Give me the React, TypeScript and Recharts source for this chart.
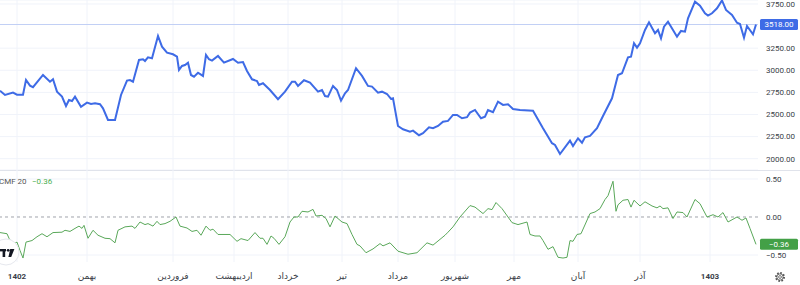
import React from 'react';
import { LineChart, Line, XAxis, YAxis, CartesianGrid, ReferenceLine } from 'recharts';

const priceDays = [0,5,13,17,23,26,30,33,43,50,53,57,62,66,69,72,75,81,87,91,95,100,103,108,115,121,127,130,133,139,143,145,148,152,158,162,167,173,177,179,182,185,188,191,194,198,203,206,209,212,218,224,233,238,243,247,252,257,259,263,270,278,285,292,295,298,304,310,318,322,325,328,333,337,341,345,348,356,362,368,372,378,382,387,391,393,398,403,410,413,419,423,429,433,438,443,448,453,457,462,467,470,475,481,485,488,493,498,503,508,513,520,533,543,552,555,560,570,573,578,582,585,590,597,603,612,618,622,628,631,634,637,640,645,649,655,658,661,664,668,673,677,681,685,688,695,700,705,708,712,717,722,726,732,737,740,744,747,753,756];
const priceValues = [2769,2721,2747,2724,2724,2890,2826,2808,2947,2871,2898,2758,2702,2596,2664,2653,2702,2588,2634,2619,2627,2616,2570,2438,2438,2721,2883,2890,2871,3117,3125,3105,3147,3136,3388,3267,3199,3181,3154,3004,3049,3060,3086,2947,2928,2973,2936,3173,3125,3109,3162,3086,3128,3086,3094,2992,2898,2879,2834,2853,2777,2672,2758,2871,2871,2823,2887,2860,2758,2777,2709,2702,2823,2777,2656,2740,2777,3023,2936,2823,2815,2747,2758,2732,2676,2683,2370,2333,2306,2317,2265,2288,2355,2344,2370,2419,2427,2495,2495,2457,2469,2521,2551,2457,2475,2551,2525,2645,2608,2616,2562,2551,2543,2344,2175,2155,2053,2204,2144,2231,2181,2242,2257,2344,2483,2683,2947,2966,3147,3154,3306,3256,3306,3456,3543,3419,3456,3362,3493,3550,3456,3380,3445,3437,3588,3776,3731,3645,3618,3645,3701,3790,3682,3626,3538,3524,3369,3501,3407,3518];

const cmfDays = [0,7,9,13,17,20,23,26,32,37,42,47,53,62,65,70,75,79,82,84,88,93,98,105,110,115,118,125,132,135,140,145,148,153,157,160,165,170,176,180,187,192,197,201,206,210,213,218,230,237,241,248,255,260,263,267,271,274,279,285,290,294,298,302,308,313,316,322,326,330,335,342,347,352,357,360,366,373,378,380,383,390,398,408,417,427,433,445,448,453,460,470,475,483,488,492,496,502,512,518,527,530,535,540,543,548,553,558,563,567,570,573,577,581,590,595,600,605,608,613,616,618,623,628,631,634,640,645,652,657,660,663,668,673,677,683,687,695,700,707,713,718,723,728,737,742,746,750,756];
const cmfValues = [-0.205,-0.22,-0.28,-0.36,-0.33,-0.44,-0.54,-0.33,-0.31,-0.26,-0.22,-0.26,-0.205,-0.2,-0.175,-0.19,-0.15,-0.12,-0.15,-0.11,-0.28,-0.175,-0.24,-0.28,-0.285,-0.34,-0.175,-0.13,-0.12,-0.15,-0.066,-0.1,-0.087,-0.12,-0.057,-0.1,-0.087,-0.057,0.0,-0.12,-0.145,-0.19,-0.175,-0.24,-0.12,-0.175,-0.16,-0.23,-0.23,-0.32,-0.285,-0.31,-0.205,-0.28,-0.28,-0.36,-0.25,-0.28,-0.36,-0.26,-0.066,0.0,0.0,0.075,0.066,0.1,0.013,0.022,-0.02,-0.13,0.013,-0.066,-0.087,-0.23,-0.36,-0.38,-0.47,-0.42,-0.37,-0.35,-0.38,-0.34,-0.45,-0.49,-0.47,-0.34,-0.37,-0.24,-0.2,-0.13,0.0,0.15,0.13,0.045,0.11,0.097,0.19,0.11,-0.074,-0.1,-0.066,-0.23,-0.25,-0.25,-0.31,-0.425,-0.39,-0.53,-0.54,-0.53,-0.31,-0.32,-0.23,-0.22,0.045,0.066,0.11,0.23,0.28,0.47,0.075,0.16,0.22,0.23,0.13,0.22,0.145,0.2,0.145,0.12,0.145,0.11,0.12,-0.02,0.066,0.058,0.0,0.23,0.175,0.0,0.03,0.0,0.058,-0.066,0.0,-0.043,-0.013,-0.15,-0.36];

const monthDays = [17, 87, 173, 234, 288, 342, 398, 455, 514, 578, 640, 710];
const monthLabels = ['1402', 'بهمن', 'فروردین', 'اردیبهشت', 'خرداد', 'تیر', 'مرداد', 'شهریور', 'مهر', 'آبان', 'آذر', '1403'];

const priceTicks = [2000, 2250, 2500, 2750, 3000, 3250, 3750];
const cmfTicks = [-0.5, 0, 0.5];
const cmfLength = 20;

const priceData = priceDays.map((d, i) => ({ day: d, price: priceValues[i] }));
const cmfData = cmfDays.map((d, i) => ({ day: d, cmf: cmfValues[i] }));
const lastPrice = priceValues[priceValues.length - 1];
const lastCmf = cmfValues[cmfValues.length - 1];

const FONT = 'Roboto, "DejaVu Sans", sans-serif';
const GRID = '#f0f3fa';
const BLUE = '#3e6be6';
const GREEN = '#5aa85a';
const TEXT = '#3a3e48';

const fmt = (v: number) => (v < 0 ? '\u2212' + Math.abs(v).toFixed(2) : v.toFixed(2));

const PriceTag = (color: string, text: string) => (props: any) => {
  const vb = props.viewBox || {};
  const x = (vb.x || 0) + (vb.width || 0) + 2;
  const y = vb.y || 0;
  return (
    <g>
      <rect x={x} y={y - 5.5} width={38} height={11} rx={1.5} fill={color} />
      <text x={x + 19} y={y} dy="0.35em" textAnchor="middle" fontSize={8} fill="#ffffff" fontFamily={FONT}>
        {text}
      </text>
    </g>
  );
};

const MonthTick = (props: any) => {
  const { x, y, payload } = props;
  const idx = monthDays.indexOf(payload.value);
  const label = idx >= 0 ? monthLabels[idx] : '';
  const bold = /^\d+$/.test(label);
  return (
    <text x={x} y={y} dy="0.71em" textAnchor="middle" fontSize={bold ? 8 : 9} fontWeight={bold ? 700 : 400} fill={TEXT} fontFamily={FONT}>
      {label}
    </text>
  );
};

export default function App() {
  return (
    <div style={{ position: 'absolute', left: 0, top: 0, width: 800, height: 285, background: '#fff', fontFamily: FONT, overflow: 'hidden' }}>
      <div style={{ position: 'absolute', left: 0, top: 0 }}>
        <LineChart width={800} height={170} data={priceData} margin={{ top: 0, right: 0, bottom: 0, left: 0 }}>
          <CartesianGrid vertical={false} stroke={GRID} />
          {monthDays.map((d) => (
            <ReferenceLine key={d} x={d} stroke={GRID} />
          ))}
          <XAxis dataKey="day" type="number" domain={[0, 758]} hide />
          <YAxis
            orientation="right"
            width={42}
            domain={[1872, 3795]}
            ticks={priceTicks}
            tickFormatter={fmt}
            axisLine={false}
            tickLine={false}
            tickSize={0}
            tickMargin={8}
            interval={0}
            tick={{ fontSize: 8, fill: TEXT }}
          />
          <ReferenceLine y={lastPrice} stroke="#c2d0f5" label={PriceTag(BLUE, lastPrice.toFixed(2))} />
          <Line type="linear" dataKey="price" stroke={BLUE} strokeWidth={2} dot={false} isAnimationActive={false} />
        </LineChart>
      </div>
      <div style={{ position: 'absolute', left: 0, top: 170, width: 800, height: 1, background: '#e0e3eb' }} />
      <div style={{ position: 'absolute', left: 0, top: 170 }}>
        <LineChart width={800} height={115} data={cmfData} margin={{ top: 0, right: 0, bottom: 0, left: 0 }}>
          <CartesianGrid vertical={false} horizontalValues={[-0.5, 0.5]} stroke={GRID} />
          {monthDays.map((d) => (
            <ReferenceLine key={d} x={d} stroke={GRID} />
          ))}
          <XAxis
            dataKey="day"
            type="number"
            domain={[0, 758]}
            ticks={monthDays}
            interval={0}
            height={23}
            axisLine={false}
            tickLine={false}
            tickSize={0}
            tickMargin={11}
            tick={<MonthTick />}
          />
          <YAxis
            orientation="right"
            width={42}
            domain={[-0.592, 0.618]}
            ticks={cmfTicks}
            tickFormatter={fmt}
            axisLine={false}
            tickLine={false}
            tickSize={0}
            tickMargin={8}
            interval={0}
            tick={{ fontSize: 8, fill: TEXT }}
          />
          <ReferenceLine y={0} stroke="#a0a3ab" strokeDasharray="3 3" />
          <ReferenceLine y={lastCmf} stroke="none" label={PriceTag('#43a047', fmt(lastCmf))} />
          <Line type="linear" dataKey="cmf" stroke={GREEN} strokeWidth={1} dot={false} isAnimationActive={false} />
        </LineChart>
      </div>
      <svg style={{ position: 'absolute', left: 0, top: 0 }} width={800} height={285}>
        <text x={-1} y={181} dy="0.35em" fontSize={8} fill="#555" fontFamily={FONT}>
          {'CMF ' + cmfLength}
        </text>
        <text x={32} y={181} dy="0.35em" fontSize={8} fill="#4caf50" fontFamily={FONT}>
          {fmt(lastCmf)}
        </text>
        <g>
          <circle cx={6} cy={252} r={13} fill="#ffffff" stroke="#e6e8ee" strokeWidth={1} />
          <rect x={0} y={249} width={6} height={2.4} fill="#131722" />
          <rect x={2.6} y={249} width={2.6} height={8} fill="#131722" />
          <circle cx={8.2} cy={250.3} r={1.4} fill="#131722" />
          <polygon points="10.2,249 14.4,249 11.2,257 8.4,257" fill="#131722" />
        </g>
        <g>
          <circle cx={780} cy={277} r={4} fill="none" stroke="#555" strokeWidth={2} strokeDasharray="1.6 1.5" />
          <circle cx={780} cy={277} r={3.2} fill="none" stroke="#555" strokeWidth={0.8} />
          <circle cx={780} cy={277} r={1.4} fill="none" stroke="#555" strokeWidth={0.8} />
        </g>
      </svg>
    </div>
  );
}
